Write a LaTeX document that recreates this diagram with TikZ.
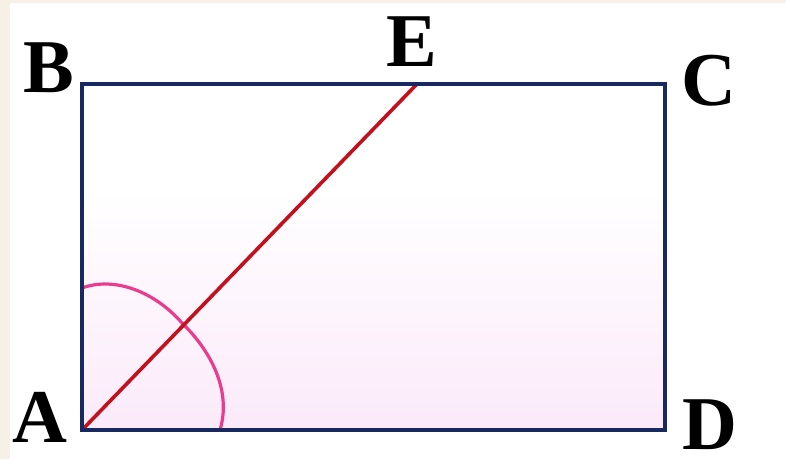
\documentclass[tikz,border=0pt]{standalone}
\usepackage{fontspec}
\setmainfont{Liberation Serif}
\definecolor{cream}{RGB}{246,241,228}
\definecolor{navy}{RGB}{24,40,96}
\definecolor{redline}{RGB}{196,16,28}
\definecolor{arcpink}{RGB}{234,60,140}
\definecolor{pinkbg}{RGB}{251,234,250}
\begin{document}
\begin{tikzpicture}[x=1pt,y=-1pt,
  lbl/.style={inner sep=0pt,font=\fontsize{76}{80}\selectfont\bfseries},
  side/.style={draw=navy,line width=4pt,line join=miter},
  seg/.style={draw=redline,line width=3.6pt},
  anglearc/.style={draw=arcpink,line width=3.2pt,line cap=round}]
\useasboundingbox (0,0) rectangle (786,459);
\fill[cream] (0,0) rectangle (786,459);
\fill[white] (10,3) rectangle (786,459);
% rectangle corners
\coordinate (A) at (82,430);
\coordinate (B) at (82,84);
\coordinate (C) at (665,84);
\coordinate (D) at (665,430);
\coordinate (E) at (417,84);
% background inside
\shade[top color=white,bottom color=pinkbg] (82,190) rectangle (665,430);
% angle arc
\coordinate (P1) at (82,288);
\coordinate (P2) at (182,323);
\coordinate (P3) at (220,430);
\draw[anglearc] (P1) .. controls (115,276) and (155,292) .. (P2)
  .. controls (210,350) and (232,390) .. (P3);
\draw[seg] (A) -- (E);
\draw[side] (A) -- (B) -- (C) -- (D) -- cycle;
% labels
\node[lbl] (lA) at (40,417) {A};
\node[lbl] (lB) at (49,68) {B};
\node[lbl] (lC) at (709,81) {C};
\node[lbl] (lD) at (710,425) {D};
\node[lbl] (lE) at (412,42) {E};
\end{tikzpicture}
\end{document}
